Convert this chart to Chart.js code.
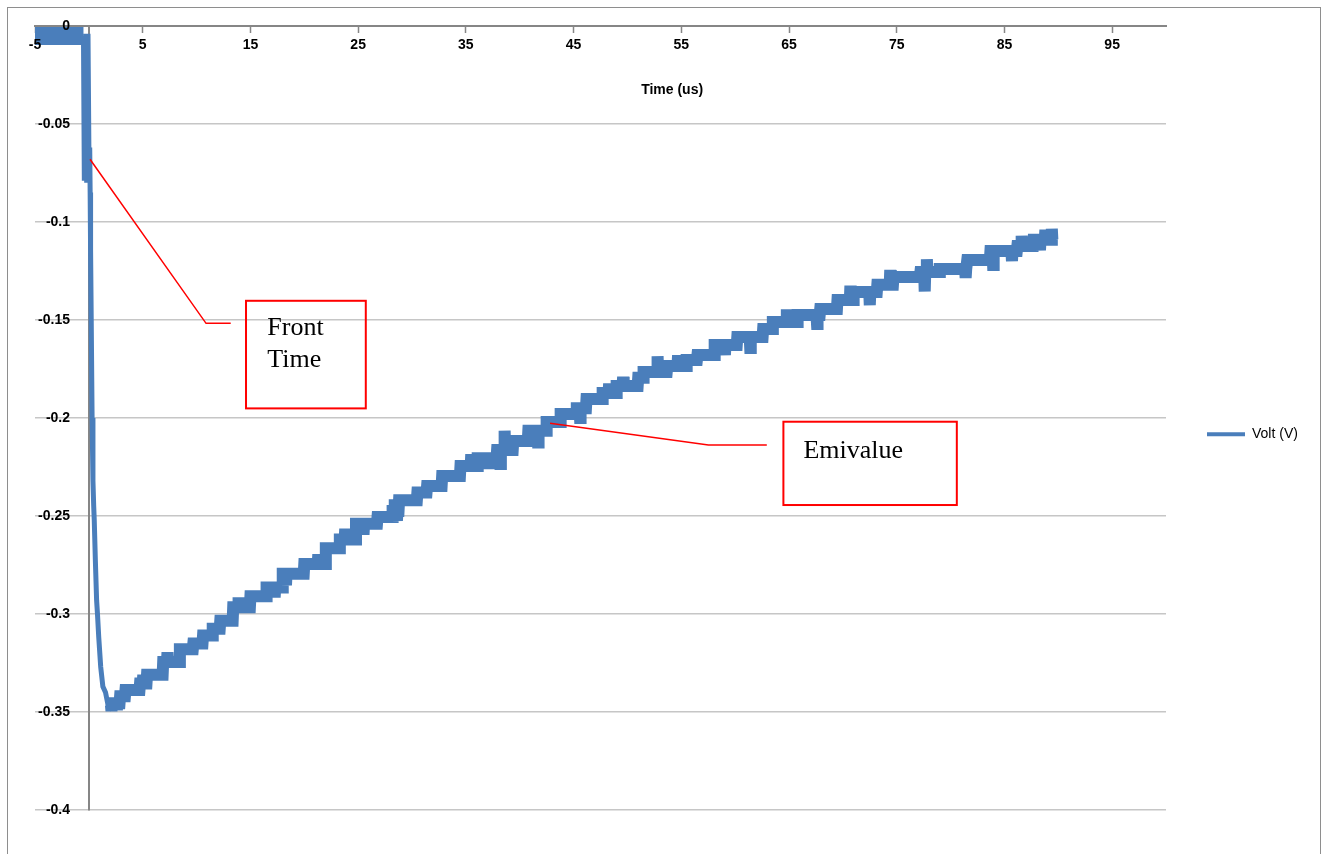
<!DOCTYPE html>
<html>
<head>
<meta charset="UTF-8">
<title>Volt (V)</title>
<script src="https://cdn.jsdelivr.net/npm/chart.js@4.4.1/dist/chart.umd.min.js"></script>
<style>
  body { margin: 0; background: #fff; }
  #marco { position: absolute; left: 7px; top: 7px; width: 1312px; height: 900px; border: 1px solid #8e8e8e; }
  #grafico { position: absolute; left: 0; top: 0; }
</style>
</head>
<body>
<div id="marco"></div>
<canvas id="grafico" width="1325" height="854"></canvas>
<script>
// tramo antes del disparo (alrededor de 0 V)
const baseTime = [-5, -0.5];
const baseVolt = [-0.0051, -0.0051];

// frente de onda
const frontTime = [-0.42, -0.3, -0.2, -0.08, 0.02, 0.08, 0.12, 0.16, 0.22, 0.3,
                   0.38, 0.45, 0.5, 0.6, 0.72, 0.8, 0.92, 1.1, 1.3, 1.55];
const frontVolt = [-0.079, -0.004, -0.08, -0.004, -0.075, -0.062, -0.085, -0.114, -0.15, -0.2,
                   -0.232, -0.245, -0.252, -0.272, -0.293, -0.3, -0.312, -0.327, -0.337, -0.34];

// cola (escalones del digitalizador)
const tailTime = [
  1.8, 2.05, 2.1, 2.15, 2.55, 2.6, 2.65, 2.85, 2.9, 3.35,
  3.4, 4.7, 4.75, 5.0, 5.05, 5.1, 5.35, 5.4, 6.85, 6.9,
  7.25, 7.3, 7.35, 8.4, 8.45, 9.65, 9.7, 10.55, 10.6, 11.45,
  11.5, 12.15, 12.2, 13.35, 13.4, 13.85, 13.9, 13.95, 14.95, 15.0,
  16.45, 16.5, 17.2, 17.25, 17.3, 17.95, 18.0, 18.25, 18.3, 18.35,
  19.95, 20.0, 21.25, 21.3, 21.35, 21.95, 22.0, 23.25, 23.3, 23.75,
  23.8, 23.85, 24.75, 24.8, 25.45, 25.5, 25.55, 26.75, 26.8, 28.15,
  28.2, 28.35, 28.4, 28.45, 28.55, 28.6, 28.65, 28.75, 28.8, 30.45,
  30.5, 31.35, 31.4, 32.75, 32.8, 34.45, 34.5, 35.45, 35.5, 35.55,
  35.75, 35.8, 35.85, 36.05, 36.1, 37.05, 37.1, 37.15, 37.85, 37.9,
  38.15, 38.2, 38.25, 38.55, 38.6, 38.65, 39.35, 39.4, 40.75, 40.8,
  41.65, 41.7, 41.75, 42.45, 42.5, 43.75, 43.8, 45.25, 45.3, 45.55,
  45.6, 45.65, 46.15, 46.2, 47.65, 47.7, 48.25, 48.3, 48.35, 48.95,
  49.0, 49.55, 49.6, 49.65, 50.95, 51.0, 51.45, 51.5, 52.75, 52.8,
  52.85, 53.65, 53.7, 54.65, 54.7, 54.75, 55.45, 55.5, 56.45, 56.5,
  58.05, 58.1, 59.0, 59.05, 59.1, 60.15, 60.2, 61.35, 61.4, 61.45,
  62.55, 62.6, 63.45, 63.5, 64.75, 64.8, 64.85, 65.75, 65.8, 67.55,
  67.6, 67.65, 67.85, 67.9, 69.45, 69.5, 70.65, 70.7, 70.75, 70.95,
  71.0, 72.45, 72.5, 72.55, 73.15, 73.2, 74.35, 74.4, 74.45, 74.65,
  74.7, 77.15, 77.2, 77.55, 77.6, 77.65, 77.75, 77.8, 77.85, 78.95,
  79.0, 81.35, 81.4, 81.45, 81.5, 81.55, 83.65, 83.7, 83.9, 83.95,
  84.0, 85.65, 85.7, 85.75, 86.15, 86.2, 86.55, 86.6, 86.65, 87.65,
  87.7, 88.25, 88.3, 88.35, 88.75, 88.8, 88.85, 89.35, 89.4, 89.45,
  89.8
];
const tailVolt = [
  -0.347, -0.3465, -0.3495, -0.3455, -0.3455, -0.349, -0.3455, -0.3455, -0.342, -0.342,
  -0.3388, -0.3388, -0.3355, -0.3355, -0.331, -0.3355, -0.3355, -0.331, -0.331, -0.3245,
  -0.3245, -0.3195, -0.3245, -0.3245, -0.318, -0.318, -0.315, -0.315, -0.311, -0.311,
  -0.3075, -0.3075, -0.3035, -0.3035, -0.2965, -0.2965, -0.2915, -0.2965, -0.2965, -0.291,
  -0.291, -0.2865, -0.2865, -0.2915, -0.2865, -0.2865, -0.2795, -0.2795, -0.2855, -0.2795,
  -0.2795, -0.2745, -0.2745, -0.2695, -0.2745, -0.2745, -0.2665, -0.2665, -0.262, -0.262,
  -0.2565, -0.262, -0.262, -0.254, -0.254, -0.2595, -0.254, -0.254, -0.2505, -0.2505,
  -0.2475, -0.2475, -0.2415, -0.2475, -0.2475, -0.2525, -0.2475, -0.2475, -0.242, -0.242,
  -0.238, -0.238, -0.2347, -0.2347, -0.2296, -0.2296, -0.2245, -0.2245, -0.2185, -0.2245,
  -0.2245, -0.2185, -0.2245, -0.2245, -0.2205, -0.2205, -0.226, -0.2205, -0.2205, -0.2163,
  -0.2163, -0.2235, -0.2163, -0.2163, -0.2065, -0.2163, -0.2163, -0.2117, -0.2117, -0.2065,
  -0.2065, -0.2125, -0.2065, -0.2065, -0.202, -0.202, -0.198, -0.198, -0.195, -0.195,
  -0.2, -0.195, -0.195, -0.1903, -0.1903, -0.1872, -0.1872, -0.1825, -0.1872, -0.1872,
  -0.1837, -0.1837, -0.179, -0.1837, -0.1837, -0.1795, -0.1795, -0.1765, -0.1765, -0.1685,
  -0.1765, -0.1765, -0.1735, -0.1735, -0.168, -0.1735, -0.1735, -0.1704, -0.1704, -0.1679,
  -0.1679, -0.1628, -0.1628, -0.168, -0.1628, -0.1628, -0.1587, -0.1587, -0.1643, -0.1587,
  -0.1587, -0.1546, -0.1546, -0.151, -0.151, -0.1445, -0.151, -0.151, -0.1474, -0.1474,
  -0.152, -0.1474, -0.1474, -0.1444, -0.1444, -0.1398, -0.1398, -0.1325, -0.1398, -0.1398,
  -0.1357, -0.1357, -0.1425, -0.1357, -0.1357, -0.132, -0.132, -0.1245, -0.132, -0.132,
  -0.128, -0.128, -0.1255, -0.1255, -0.1355, -0.1255, -0.1255, -0.119, -0.1255, -0.1255,
  -0.124, -0.124, -0.1285, -0.124, -0.124, -0.1194, -0.1194, -0.1148, -0.1148, -0.122,
  -0.1148, -0.1148, -0.12, -0.1148, -0.1148, -0.1122, -0.1122, -0.107, -0.1122, -0.1122,
  -0.109, -0.109, -0.1145, -0.109, -0.109, -0.104, -0.109, -0.109, -0.1035, -0.109,
  -0.109
];

const xTicks = [-5, 5, 15, 25, 35, 45, 55, 65, 75, 85, 95];
const xTickLabels = ['-5', '5', '15', '25', '35', '45', '55', '65', '75', '85', '95'];
const yTicks = [-0.4, -0.35, -0.3, -0.25, -0.2, -0.15, -0.1, -0.05, 0];
const yTickLabels = ['-0.4', '-0.35', '-0.3', '-0.25', '-0.2', '-0.15', '-0.1', '-0.05', '0'];

const seriesName = 'Volt (V)';
const xTitle = 'Time (us)';

// llamadas (en unidades de los ejes)
const llamadas = [
  { linea: [[0.107, -0.068], [10.88, -0.1517], [13.17, -0.1517]],
    caja: [14.59, -0.1402, 25.71, -0.1951],
    textos: [['Front', 16.57, -0.1577], ['Time', 16.57, -0.1741]] },
  { linea: [[42.82, -0.2027], [57.52, -0.2138], [62.94, -0.2138]],
    caja: [64.48, -0.2019, 80.58, -0.2444],
    textos: [['Emivalue', 66.34, -0.2203]] }
];
const tituloEn = [54.15, -0.0327];
const etiquetasYEn = -1.75;   // las etiquetas del eje Y quedan a la izquierda del eje

const puntos = [];
const tiempos = baseTime.concat(frontTime, tailTime);
const voltios = baseVolt.concat(frontVolt, tailVolt);
for (let i = 0; i < tiempos.length; i++) {
  puntos.push({ x: tiempos[i], y: voltios[i] });
}

const sans = "'Liberation Sans', Arial, sans-serif";
const serif = "'Liberation Serif', 'Times New Roman', serif";
const fuenteEje = { family: sans, size: 14, weight: 'bold' };

const dibujarLlamadas = {
  id: 'llamadas',
  afterDatasetsDraw(chart) {
    const { ctx } = chart;
    const sx = chart.scales.x;
    const sy = chart.scales.y;
    ctx.save();
    ctx.strokeStyle = '#ff0000';
    llamadas.forEach(l => {
      ctx.lineWidth = 1.5;
      ctx.beginPath();
      l.linea.forEach((p, i) => {
        const px = sx.getPixelForValue(p[0]);
        const py = sy.getPixelForValue(p[1]);
        if (i === 0) ctx.moveTo(px, py); else ctx.lineTo(px, py);
      });
      ctx.stroke();

      ctx.lineWidth = 2;
      const x1 = sx.getPixelForValue(l.caja[0]);
      const y1 = sy.getPixelForValue(l.caja[1]);
      const x2 = sx.getPixelForValue(l.caja[2]);
      const y2 = sy.getPixelForValue(l.caja[3]);
      ctx.strokeRect(x1, y1, x2 - x1, y2 - y1);

      ctx.fillStyle = '#000';
      ctx.font = '26px ' + serif;
      ctx.textAlign = 'left';
      ctx.textBaseline = 'alphabetic';
      l.textos.forEach(t => {
        ctx.fillText(t[0], sx.getPixelForValue(t[1]), sy.getPixelForValue(t[2]));
      });
    });

    ctx.fillStyle = '#000';
    ctx.font = 'bold 14px ' + sans;
    ctx.textAlign = 'center';
    ctx.textBaseline = 'middle';
    ctx.fillText(xTitle, sx.getPixelForValue(tituloEn[0]), sy.getPixelForValue(tituloEn[1]));
    ctx.restore();
  }
};

const ctx = document.getElementById('grafico').getContext('2d');
const chart = new Chart(ctx, {
  type: 'line',
  data: {
    datasets: [{
      label: seriesName,
      data: puntos,
      borderColor: '#4A7EBB',
      backgroundColor: '#4A7EBB',
      borderWidth: 4,
      pointRadius: 0,
      pointBorderWidth: 4,
      pointStyle: 'line',
      borderCapStyle: 'butt',
      borderJoinStyle: 'miter',
      tension: 0,
      segment: {
        borderWidth: c => {
          if (c.p1.parsed.x <= -0.5) return 18;
          if (c.p0.parsed.x < 1.8) return 5;
          return 12;
        }
      }
    }]
  },
  options: {
    responsive: false,
    animation: false,
    devicePixelRatio: 1,
    layout: { padding: { left: 35, top: 26, bottom: 44, right: 16 } },
    plugins: {
      tooltip: { enabled: false },
      legend: {
        position: 'right',
        title: { display: true, text: ' ', padding: 9, font: { size: 12 } },
        labels: {
          usePointStyle: true,
          pointStyle: 'line',
          pointStyleWidth: 38,
          padding: 41,
          color: '#000',
          font: { family: sans, size: 14 }
        }
      }
    },
    scales: {
      x: {
        type: 'linear',
        min: -5,
        max: 100,
        position: { y: 0 },
        afterBuildTicks: s => { s.ticks = xTicks.map(v => ({ value: v })); },
        ticks: {
          autoSkip: false,
          maxRotation: 0,
          padding: 5,
          z: 1,
          color: '#000',
          font: fuenteEje,
          callback: (v, i) => xTickLabels[i]
        },
        grid: { drawOnChartArea: false, drawTicks: true, tickLength: 6, tickColor: '#868686', tickWidth: 1.5 },
        border: { color: '#868686', width: 2 }
      },
      y: {
        type: 'linear',
        min: -0.4,
        max: 0,
        position: { x: 0 },
        afterBuildTicks: s => { s.ticks = yTicks.map(v => ({ value: v })); },
        ticks: { display: false },
        grid: { color: '#c6c6c6', lineWidth: 1.5, drawTicks: false },
        border: { color: '#868686', width: 2 }
      },
      yEtiquetas: {
        type: 'linear',
        axis: 'y',
        min: -0.4,
        max: 0,
        position: { x: etiquetasYEn },
        afterBuildTicks: s => { s.ticks = yTicks.map(v => ({ value: v })); },
        ticks: {
          z: 1,
          color: '#000',
          font: fuenteEje,
          callback: (v, i) => yTickLabels[i]
        },
        grid: { display: false },
        border: { display: false }
      }
    }
  },
  plugins: [dibujarLlamadas]
});

// ajusta el margen derecho para que el área de trazado termine donde en el original
const derecha = 1166;
const dif = chart.chartArea.right - derecha;
if (Math.abs(dif) > 0.5) {
  chart.options.layout.padding.right += dif;
  chart.update();
}
</script>
</body>
</html>
